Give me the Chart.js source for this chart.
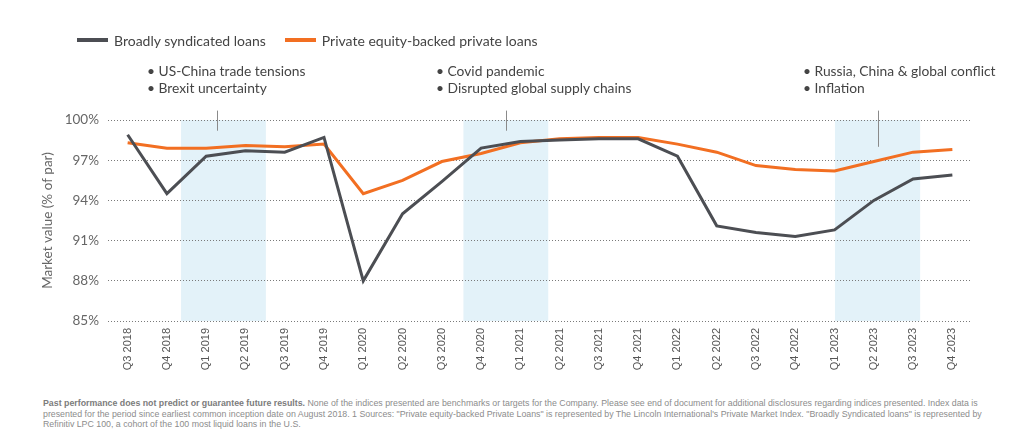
<!DOCTYPE html>
<html>
<head>
<meta charset="utf-8">
<script src="https://cdn.jsdelivr.net/npm/chart.js@4/dist/chart.umd.min.js"></script>
<style>
  body { margin: 0; background: #fff; width: 1024px; height: 447px; overflow: hidden; position: relative; font-family: Lato, "Open Sans", sans-serif; }
  #chart { position: absolute; left: 0; top: 0; }
  .legend { position: absolute; top: 28px; left: 77px; font-size: 14px; color: #444; white-space: nowrap; }
  .legend span.item { display: inline-flex; align-items: center; margin-right: 19px; }
  .legend i { display: inline-block; width: 31px; height: 4px; margin-right: 6px; }
  .note { position: absolute; font-size: 13.8px; color: #444; line-height: 16.5px; white-space: nowrap; }
  .foot { position: absolute; left: 43px; top: 398px; font-family: "Liberation Sans", Arial, sans-serif; font-size: 8.8px; line-height: 10.5px; color: #8c8c8c; white-space: nowrap; }
  .foot b { color: #7c7c7c; }
</style>
</head>
<body>
<canvas id="chart" width="1024" height="385"></canvas>
<div class="legend" id="legend"></div>
<div class="note" style="left:147px; top:63px;">• US-China trade tensions<br>• Brexit uncertainty</div>
<div class="note" style="left:436px; top:63px;">• Covid pandemic<br>• Disrupted global supply chains</div>
<div class="note" style="left:803px; top:63px;">• Russia, China &amp; global conflict<br>• Inflation</div>
<div class="foot">
  <div><b>Past performance does not predict or guarantee future results.</b> None of the indices presented are benchmarks or targets for the Company. Please see end of document for additional disclosures regarding indices presented. Index data is</div>
  <div>presented for the period since earliest common inception date on August 2018. 1 Sources: "Private equity-backed Private Loans" is represented by The Lincoln International's Private Market Index. "Broadly Syndicated loans" is represented by</div>
  <div>Refinitiv LPC 100, a cohort of the 100 most liquid loans in the U.S.</div>
</div>
<script>
const quarters = [
  "Q3 2018", "Q4 2018", "Q1 2019", "Q2 2019", "Q3 2019", "Q4 2019",
  "Q1 2020", "Q2 2020", "Q3 2020", "Q4 2020", "Q1 2021", "Q2 2021",
  "Q3 2021", "Q4 2021", "Q1 2022", "Q2 2022", "Q3 2022", "Q4 2022",
  "Q1 2023", "Q2 2023", "Q3 2023", "Q4 2023"
];
const syndicated = [
  98.9, 94.5, 97.3, 97.7, 97.6, 98.7,
  88.0, 93.0, 95.4, 97.9, 98.4, 98.5,
  98.6, 98.6, 97.3, 92.1, 91.6, 91.3,
  91.8, 94.0, 95.6, 95.9
];
const privateLoans = [
  98.3, 97.9, 97.9, 98.1, 98.0, 98.2,
  94.5, 95.5, 96.9, 97.5, 98.3, 98.6,
  98.7, 98.7, 98.2, 97.6, 96.6, 96.3,
  96.2, 96.9, 97.6, 97.8
];
const yTicks = [85, 88, 91, 94, 97, 100];
// shaded stress periods, in quarter-index units
const stressPeriods = [[1.36, 3.52], [8.55, 10.71], [18.01, 20.18]];
// small pointer lines under the notes: [index, top value, bottom value]
const pointers = [[2.28, 100.7, 99.2], [9.63, 100.7, 99.2], [19.1, 100.7, 98.0]];

const GRAY = "#4c4e53";
const ORANGE = "#f26f22";

const legend = document.getElementById("legend");
[["Broadly syndicated loans", GRAY], ["Private equity-backed private loans", ORANGE]].forEach(([txt, col]) => {
  const s = document.createElement("span");
  s.className = "item";
  s.innerHTML = `<i style="background:${col}"></i>${txt}`;
  legend.appendChild(s);
});

const shading = {
  id: "shading",
  beforeDraw(chart) {
    const { ctx, scales: { x, y } } = chart;
    ctx.save();
    ctx.fillStyle = "#e3f2f9";
    stressPeriods.forEach(([a, b]) => {
      const x0 = x.getPixelForValue(a);
      const x1 = x.getPixelForValue(b);
      ctx.fillRect(x0, y.getPixelForValue(100), x1 - x0, y.getPixelForValue(85) - y.getPixelForValue(100));
    });
    ctx.restore();
  },
  afterDraw(chart) {
    const { ctx, scales: { x, y } } = chart;
    ctx.save();
    ctx.strokeStyle = "#8a8a8a";
    ctx.lineWidth = 1;
    pointers.forEach(([i, top, bottom]) => {
      const px = Math.round(x.getPixelForValue(i)) + 0.5;
      ctx.beginPath();
      ctx.moveTo(px, y.getPixelForValue(top));
      ctx.lineTo(px, y.getPixelForValue(bottom));
      ctx.stroke();
    });
    ctx.restore();
  }
};

new Chart(document.getElementById("chart"), {
  type: "line",
  data: {
    labels: quarters,
    datasets: [
      { label: "Broadly syndicated loans", data: syndicated, borderColor: GRAY, borderWidth: 3, pointRadius: 0, tension: 0 },
      { label: "Private equity-backed private loans", data: privateLoans, borderColor: ORANGE, borderWidth: 3, pointRadius: 0, tension: 0 }
    ]
  },
  options: {
    responsive: false,
    animation: false,
    layout: { padding: { left: 30, top: 120, right: 52, bottom: 0 } },
    plugins: { legend: { display: false }, tooltip: { enabled: false } },
    scales: {
      x: {
        offset: true,
        grid: { display: false, drawTicks: false },
        border: { display: false },
        ticks: {
          minRotation: 90, maxRotation: 90, padding: 7, autoSkip: false,
          color: "#555", font: { family: "'Liberation Sans', Arial", size: 11 }
        },
        afterFit(s) { s.height = 64; }
      },
      y: {
        min: 85, max: 100,
        afterBuildTicks(s) { s.ticks = yTicks.map(v => ({ value: v })); },
        grid: { color: "#7a7a7a", lineWidth: 1, drawTicks: false },
        border: { display: false, dash: [1, 2] },
        ticks: {
          padding: 9, color: "#666", font: { family: "Lato", size: 13.5 },
          callback: v => v + "%"
        },
        title: {
          display: true, text: "Market value (% of par)", color: "#666",
          font: { family: "Lato", size: 13.5 }, padding: { top: 10, bottom: 0 }
        },
        afterFit(s) { s.width = 78; }
      }
    }
  },
  plugins: [shading]
});
</script>
</body>
</html>
